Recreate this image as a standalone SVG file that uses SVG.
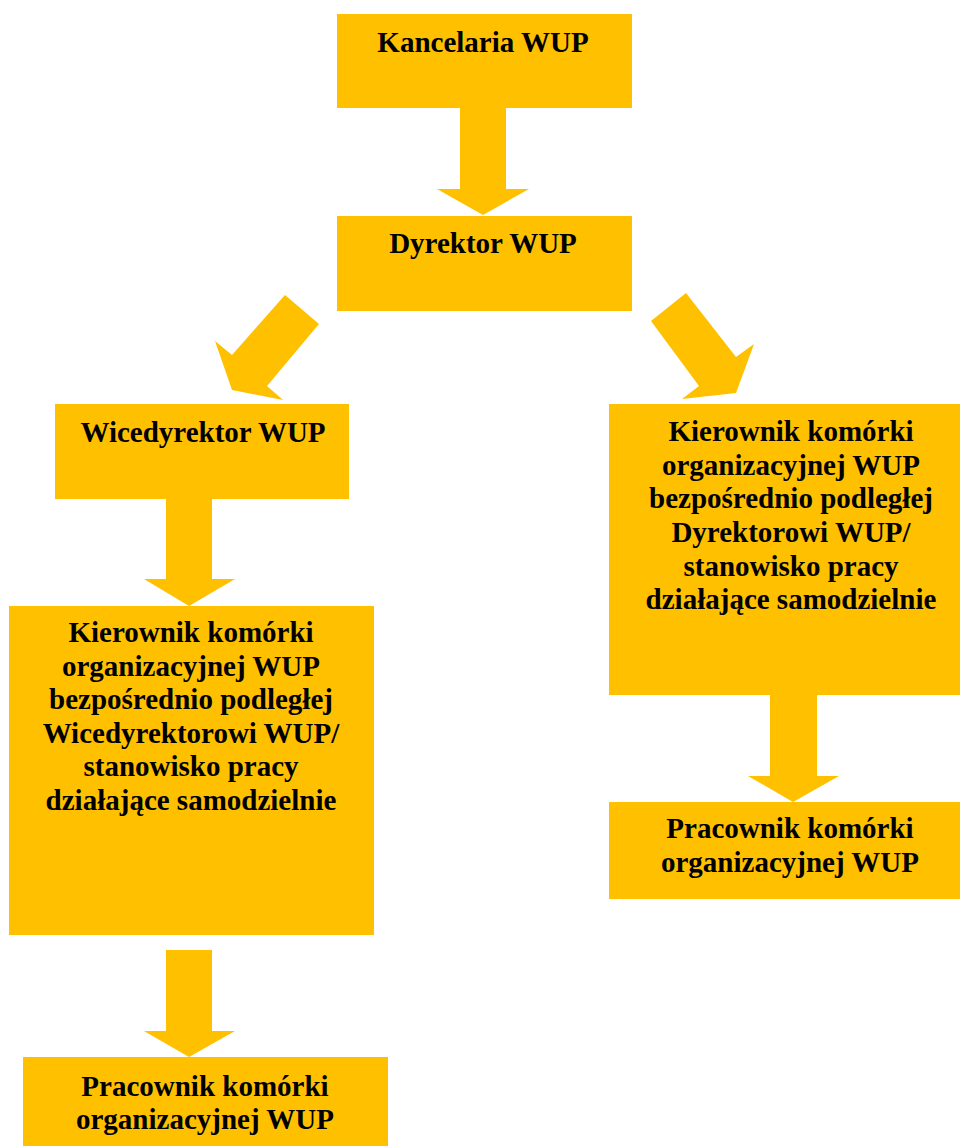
<svg xmlns="http://www.w3.org/2000/svg" width="960" height="1146" viewBox="0 0 960 1146">
<style>
.box{fill:#FFC000}
.arrow{fill:#FFC000}
.t{font-family:"Liberation Serif","Times New Roman",serif;font-weight:bold;font-size:29px;fill:#000;text-anchor:middle}
</style>
<rect width="960" height="1146" fill="#fff"/>
<g id="connectors">
<polygon class="arrow" points="460,107 506,107 506,189 529,189 483,215 437,189 460,189"/>
<polygon class="arrow" points="285,295 319,324 267,386 283,400 232,390 215,341 232,355"/>
<polygon class="arrow" points="686,293 736,357 754,344 736,393 682,399 699,386 651,321"/>
<polygon class="arrow" points="166,498 212,498 212,579 235,579 189,606 144,579 166,579"/>
<polygon class="arrow" points="770,694 817,694 817,776 839,776 793,802 748,776 770,776"/>
<polygon class="arrow" points="166,950 212,950 212,1031 235,1031 189,1057 144,1031 166,1031"/>
</g>
<g id="kancelaria">
<rect class="box" x="337" y="14" width="295" height="94"/>
<text class="t" x="483" y="52">Kancelaria WUP</text>
</g>
<g id="dyrektor">
<rect class="box" x="337" y="216" width="295" height="95"/>
<text class="t" x="483" y="253">Dyrektor WUP</text>
</g>
<g id="wicedyrektor">
<rect class="box" x="55" y="404" width="294" height="95"/>
<text class="t" x="203" y="442">Wicedyrektor WUP</text>
</g>
<g id="kierownik-dyrektor">
<rect class="box" x="609" y="404" width="361" height="291"/>
<text class="t" x="791" y="441">Kierownik komórki</text>
<text class="t" x="791" y="475">organizacyjnej WUP</text>
<text class="t" x="791" y="508">bezpośrednio podległej</text>
<text class="t" x="791" y="542">Dyrektorowi WUP/</text>
<text class="t" x="791" y="576">stanowisko pracy</text>
<text class="t" x="791" y="609">działające samodzielnie</text>
</g>
<g id="kierownik-wicedyrektor">
<rect class="box" x="9" y="606" width="365" height="329"/>
<text class="t" x="191" y="642">Kierownik komórki</text>
<text class="t" x="191" y="676">organizacyjnej WUP</text>
<text class="t" x="191" y="709">bezpośrednio podległej</text>
<text class="t" x="191" y="743">Wicedyrektorowi WUP/</text>
<text class="t" x="191" y="776">stanowisko pracy</text>
<text class="t" x="191" y="810">działające samodzielnie</text>
</g>
<g id="pracownik-prawy">
<rect class="box" x="609" y="802" width="361" height="97"/>
<text class="t" x="790" y="838">Pracownik komórki</text>
<text class="t" x="790" y="872">organizacyjnej WUP</text>
</g>
<g id="pracownik-lewy">
<rect class="box" x="23" y="1057" width="365" height="95"/>
<text class="t" x="205" y="1096">Pracownik komórki</text>
<text class="t" x="205" y="1129">organizacyjnej WUP</text>
</g>
</svg>
